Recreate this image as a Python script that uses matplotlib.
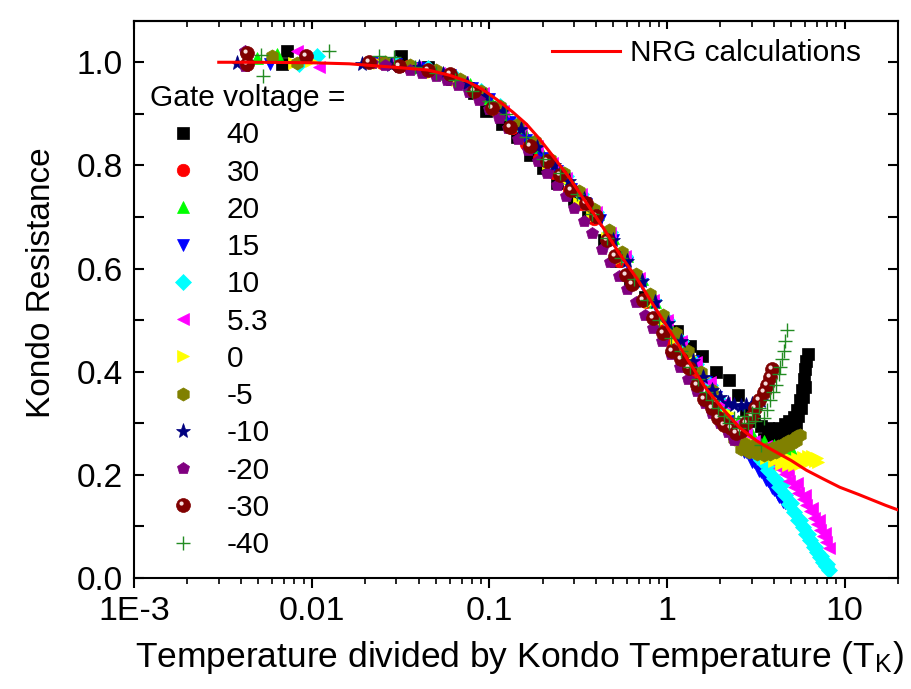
import numpy as np
import matplotlib
matplotlib.use("Agg")
import matplotlib.pyplot as plt
from matplotlib.path import Path
from matplotlib.ticker import MultipleLocator, NullFormatter, FixedLocator, FixedFormatter

plt.rcParams['font.family'] = ['Liberation Sans', 'DejaVu Sans']
plt.rcParams['mathtext.fontset'] = 'custom'
plt.rcParams['mathtext.rm'] = 'Liberation Sans'
plt.rcParams['mathtext.it'] = 'Liberation Sans'

# NRG calculation
nrg_x = [0.003, 0.005, 0.01, 0.0163, 0.03, 0.045, 0.0596, 0.075, 0.091, 0.11, 0.135, 0.162,
         0.19, 0.218, 0.25, 0.28, 0.351, 0.44, 0.54, 0.68, 0.83, 1.0, 1.3, 1.67, 2.1, 2.56, 3.2,
         3.93, 5.0, 6.1, 7.6, 9.4, 12, 14.4, 17, 20]
nrg_y = [1.0, 1.0, 0.999, 0.997, 0.99, 0.985, 0.975, 0.963, 0.948, 0.928, 0.904, 0.88,
         0.853, 0.827, 0.8, 0.778, 0.728, 0.678, 0.629, 0.58, 0.532, 0.488, 0.425, 0.366, 0.325,
         0.292, 0.266, 0.248, 0.228, 0.209, 0.192, 0.176, 0.162, 0.151, 0.141, 0.132]

# gate voltage series
v40_x = [0.0068, 0.0073, 0.032, 0.045, 0.062, 0.082, 0.096, 0.118, 0.144, 0.17, 0.2, 0.24, 0.3,
         0.36, 0.44, 0.52, 0.62, 0.75, 0.93, 1.14, 1.35, 1.58, 1.9, 2.25, 2.5, 2.8, 3.1, 3.4,
         3.7, 4.0, 4.3, 4.6, 4.9, 5.2, 5.4, 5.6, 5.75, 5.9, 6.0, 6.1, 6.2,
         3.5, 3.8, 4.1, 4.4, 4.7, 5.0, 5.3, 5.5, 5.7, 5.85, 6.0]
v40_y = [0.996, 1.022, 1.013, 0.99, 0.968, 0.94, 0.906, 0.881, 0.855, 0.82, 0.795, 0.765, 0.735,
         0.70, 0.655, 0.615, 0.58, 0.545, 0.5, 0.478, 0.45, 0.43, 0.40, 0.383, 0.355, 0.325, 0.305,
         0.295, 0.29, 0.287, 0.29, 0.298, 0.305, 0.312, 0.325, 0.345, 0.365, 0.385, 0.405, 0.42,
         0.435, 0.27, 0.272, 0.275, 0.28, 0.285, 0.29, 0.30, 0.315, 0.33, 0.35, 0.37]

v30_x = [0.025, 0.035, 0.05, 0.07, 0.09, 0.11, 0.135, 0.16, 0.19, 0.23, 0.28, 0.33, 0.39, 0.46,
         0.54, 0.64, 0.76, 0.9, 1.05, 1.25, 1.45, 1.7, 1.95]
v30_y = [0.998, 0.992, 0.98, 0.962, 0.935, 0.905, 0.872, 0.842, 0.815, 0.785, 0.752, 0.725, 0.697,
         0.655, 0.615, 0.575, 0.535, 0.49, 0.46, 0.42, 0.385, 0.35, 0.33]

v20_x = [0.0049, 0.0064, 0.028, 0.04, 0.058, 0.078, 0.1, 0.125, 0.155, 0.19, 0.23, 0.28, 0.34,
         0.41, 0.5, 0.6, 0.72, 0.86, 1.02, 1.2, 1.45, 1.75, 2.1, 2.5, 3.0, 3.5, 4.0, 4.5, 5.0]
v20_y = [1.009, 1.016, 0.998, 0.99, 0.978, 0.958, 0.93, 0.9, 0.87, 0.835, 0.808, 0.775, 0.74,
         0.705, 0.66, 0.625, 0.58, 0.535, 0.495, 0.455, 0.41, 0.37, 0.335, 0.305, 0.28, 0.265,
         0.258, 0.252, 0.25]

v15_x = [0.0058, 0.022, 0.03, 0.042, 0.06, 0.08, 0.1, 0.13, 0.16, 0.2, 0.24, 0.29, 0.35, 0.42,
         0.5, 0.6, 0.72, 0.86, 1.0, 1.2, 1.4, 1.65, 1.9, 2.2, 2.5, 2.8, 3.1, 3.4, 3.7, 4.0, 4.3,
         4.6, 2.7, 3.0, 3.3, 3.6, 3.9, 4.2, 4.5]
v15_y = [0.997, 1.0, 0.996, 0.988, 0.975, 0.95, 0.928, 0.885, 0.85, 0.815, 0.79, 0.755, 0.725,
         0.695, 0.655, 0.61, 0.57, 0.53, 0.495, 0.455, 0.42, 0.38, 0.35, 0.305, 0.265, 0.245,
         0.225, 0.205, 0.188, 0.17, 0.157, 0.145, 0.245, 0.225, 0.207, 0.19, 0.175, 0.16, 0.148]

v10_x = [0.0085, 0.0107, 0.03, 0.045, 0.065, 0.09, 0.115, 0.145, 0.18, 0.22, 0.27, 0.33, 0.4,
         0.48, 0.58, 0.7, 0.84, 1.0, 1.2, 1.45, 1.75, 2.1, 2.5, 2.8, 3.1, 3.4, 3.7, 4.0, 4.3,
         4.6, 4.9, 5.2, 5.5, 5.8, 6.1, 6.4, 6.7, 7.0, 7.3, 7.6, 7.9, 8.2,
         3.2, 3.8, 4.4, 5.0, 5.6, 6.2, 6.8, 7.4, 8.0]
v10_y = [0.997, 1.013, 0.996, 0.988, 0.97, 0.945, 0.915, 0.88, 0.845, 0.81, 0.78, 0.745, 0.71,
         0.67, 0.625, 0.58, 0.54, 0.5, 0.46, 0.415, 0.375, 0.335, 0.29, 0.265, 0.245, 0.228,
         0.21, 0.193, 0.177, 0.16, 0.144, 0.128, 0.113, 0.099, 0.086, 0.073, 0.061, 0.05,
         0.04, 0.031, 0.023, 0.016,
         0.25, 0.215, 0.18, 0.146, 0.113, 0.085, 0.06, 0.042, 0.028]

v53_x = [0.0083, 0.011, 0.027, 0.038, 0.052, 0.07, 0.092, 0.12, 0.15, 0.185, 0.225, 0.27, 0.33,
         0.4, 0.48, 0.58, 0.7, 0.84, 1.0, 1.2, 1.45, 1.75, 2.1, 2.5, 2.8, 3.1, 3.4, 3.7, 4.0,
         4.3, 4.6, 4.9, 5.2, 5.5, 5.8, 6.1, 6.4, 6.7, 7.0, 7.3, 7.6, 7.9, 8.2,
         3.6, 4.2, 4.8, 5.4, 6.0, 6.6, 7.2, 7.8]
v53_y = [1.022, 0.99, 0.997, 0.99, 0.98, 0.962, 0.94, 0.905, 0.87, 0.838, 0.805, 0.775, 0.745,
         0.71, 0.668, 0.625, 0.582, 0.54, 0.5, 0.46, 0.418, 0.38, 0.34, 0.3, 0.28, 0.265, 0.25,
         0.237, 0.225, 0.213, 0.201, 0.189, 0.177, 0.165, 0.153, 0.141, 0.129, 0.117, 0.105,
         0.093, 0.081, 0.07, 0.058,
         0.255, 0.232, 0.208, 0.184, 0.16, 0.136, 0.112, 0.088]

v0_x = [0.008, 0.0099, 0.024, 0.034, 0.048, 0.066, 0.088, 0.112, 0.14, 0.175, 0.215, 0.26, 0.32,
        0.38, 0.46, 0.55, 0.66, 0.8, 0.95, 1.12, 1.35, 1.6, 1.9, 2.2, 2.6, 3.0, 3.4, 3.8, 4.2,
        4.6, 5.0, 5.4, 5.8, 6.2, 6.6, 7.0, 3.6, 4.0, 4.4, 4.8, 5.2, 5.6, 6.0, 6.4, 6.8, 7.1]
v0_y = [0.999, 1.003, 0.999, 0.993, 0.982, 0.965, 0.94, 0.91, 0.875, 0.84, 0.805, 0.77, 0.728,
        0.7, 0.66, 0.62, 0.58, 0.535, 0.5, 0.465, 0.43, 0.39, 0.355, 0.32, 0.285, 0.262, 0.25,
        0.242, 0.236, 0.232, 0.23, 0.232, 0.234, 0.236, 0.236, 0.232,
        0.232, 0.226, 0.222, 0.22, 0.22, 0.222, 0.224, 0.226, 0.226, 0.225]

vm5_x = [0.006, 0.0083, 0.026, 0.036, 0.05, 0.068, 0.09, 0.115, 0.145, 0.18, 0.22, 0.265, 0.32,
         0.39, 0.47, 0.56, 0.67, 0.8, 0.95, 1.12, 1.32, 1.55, 1.8, 2.1, 2.4, 2.7, 3.0, 3.3, 3.6,
         3.9, 4.2, 4.5, 4.8, 5.1, 5.4, 5.6, 2.6, 2.9, 3.2, 3.5, 3.8, 4.1, 4.4, 4.7, 5.0, 5.3]
vm5_y = [1.013, 0.999, 1.0, 0.994, 0.985, 0.968, 0.945, 0.915, 0.88, 0.848, 0.812, 0.785, 0.75,
         0.715, 0.675, 0.632, 0.59, 0.55, 0.51, 0.475, 0.44, 0.4, 0.365, 0.31, 0.27, 0.262,
         0.255, 0.25, 0.25, 0.252, 0.256, 0.26, 0.265, 0.27, 0.275, 0.278,
         0.25, 0.245, 0.24, 0.238, 0.24, 0.245, 0.25, 0.255, 0.26, 0.265]

vm10_x = [0.0038, 0.0193, 0.028, 0.04, 0.055, 0.075, 0.095, 0.12, 0.15, 0.185, 0.23, 0.28, 0.34,
          0.41, 0.5, 0.6, 0.72, 0.86, 1.02, 1.2, 1.4, 1.6, 1.8, 2.0, 2.2, 2.4, 2.6, 2.8, 3.0,
          3.2, 3.4]
vm10_y = [0.999, 0.997, 0.995, 0.99, 0.978, 0.958, 0.935, 0.905, 0.87, 0.835, 0.8, 0.77, 0.735,
          0.70, 0.655, 0.615, 0.575, 0.535, 0.495, 0.46, 0.42, 0.39, 0.365, 0.35, 0.34, 0.335,
          0.333, 0.335, 0.338, 0.34, 0.343]

vm20_x = [0.0042, 0.0042, 0.022, 0.026, 0.031, 0.036, 0.042, 0.05, 0.058, 0.067, 0.077, 0.088,
          0.1, 0.113, 0.128, 0.145, 0.165, 0.187, 0.21, 0.24, 0.27, 0.3, 0.34, 0.38, 0.43, 0.48,
          0.54, 0.6, 0.67, 0.75, 0.84, 0.94, 1.05, 1.18, 1.32, 1.47, 1.63, 1.8, 2.0, 2.2, 2.4]
vm20_y = [1.022, 0.993, 0.998, 0.995, 0.99, 0.985, 0.98, 0.974, 0.965, 0.955, 0.942, 0.926, 0.91,
          0.892, 0.872, 0.852, 0.83, 0.808, 0.786, 0.762, 0.74, 0.718, 0.692, 0.668, 0.638, 0.612,
          0.585, 0.56, 0.536, 0.51, 0.485, 0.46, 0.435, 0.41, 0.385, 0.362, 0.34, 0.32, 0.3,
          0.283, 0.268]

vm30_x = [0.0043, 0.0043, 0.0093, 0.021, 0.031, 0.045, 0.06, 0.082, 0.104, 0.13, 0.17, 0.21,
          0.25, 0.29, 0.35, 0.4, 0.46, 0.51, 0.59, 0.64, 0.73, 0.83, 0.95, 1.07, 1.2, 1.33,
          1.47, 1.62, 1.8, 1.95, 2.1, 2.3, 2.45, 2.6, 2.8, 3.0, 3.15, 3.3, 3.5, 3.65, 3.8, 3.9]
vm30_y = [1.018, 0.997, 1.013, 1.0, 0.993, 0.985, 0.978, 0.945, 0.912, 0.875, 0.838, 0.808, 0.782,
          0.752, 0.728, 0.702, 0.655, 0.625, 0.588, 0.571, 0.54, 0.505, 0.475, 0.441, 0.425,
          0.407, 0.375, 0.348, 0.33, 0.31, 0.296, 0.29, 0.281, 0.285, 0.3, 0.315, 0.33, 0.345,
          0.36, 0.375, 0.39, 0.406]

vm40_x = [0.0052, 0.0053, 0.0125, 0.024, 0.029, 0.038, 0.05, 0.064, 0.08, 0.1, 0.125, 0.16, 0.2,
          0.25, 0.31, 0.38, 0.46, 0.55, 0.65, 0.77, 0.9, 1.05, 1.2, 1.35, 1.5, 1.65, 1.8, 1.95,
          2.1, 2.25, 2.4, 2.55, 2.7, 2.85, 3.0, 3.15, 3.3, 3.4, 3.5, 3.65, 3.8, 3.95, 4.1, 4.25,
          4.35, 4.45, 4.55, 4.65, 4.75]
vm40_y = [1.014, 0.974, 1.022, 1.012, 1.01, 0.99, 0.98, 0.965, 0.945, 0.925, 0.9, 0.855, 0.812,
          0.785, 0.745, 0.705, 0.66, 0.62, 0.58, 0.54, 0.5, 0.465, 0.44, 0.41, 0.385, 0.36,
          0.345, 0.33, 0.315, 0.3, 0.31, 0.29, 0.315, 0.3, 0.32, 0.305, 0.33, 0.258, 0.31,
          0.325, 0.345, 0.36, 0.375, 0.395, 0.41, 0.425, 0.44, 0.46, 0.48]

gate_labels = ['40', '30', '20', '15', '10', '5.3', '0', '-5', '-10', '-20', '-30', '-40']
gate_x = [v40_x, v30_x, v20_x, v15_x, v10_x, v53_x, v0_x, vm5_x, vm10_x, vm20_x, vm30_x, vm40_x]
gate_y = [v40_y, v30_y, v20_y, v15_y, v10_y, v53_y, v0_y, vm5_y, vm10_y, vm20_y, vm30_y, vm40_y]
colors = ['#000000', '#ff0000', '#00ff00', '#0000ff', '#00ffff', '#ff00ff', '#ffff00',
          '#808000', '#000080', '#800080', '#800000', '#238c23']
markers = ['s', 'o', '^', 'v', 'D', '<', '>', 'h', '*', 'p', 'o', '+']
msizes = [8.5, 9, 9, 9, 8, 9, 9, 9.5, 11, 9, 10, 10]

# highlight spot for the "sphere" symbol
circ = Path.circle((-0.14, 0.14), 0.15)
spot = Path([(-0.5, -0.5), (0.5, 0.5)] + list(circ.vertices),
            [Path.MOVETO, Path.MOVETO] + list(circ.codes))

fig = plt.figure(figsize=(9.12, 6.89), dpi=100)
ax = fig.add_axes([134 / 912, 1 - 578 / 689, 764 / 912, 557 / 689])

handles = []
for i, lab in enumerate(gate_labels):
    c = colors[i]
    mew = 1.0 if markers[i] == '+' else 0.5
    h, = ax.plot(gate_x[i], gate_y[i], linestyle='none', marker=markers[i], ms=msizes[i],
                 mfc=c, mec=c, mew=mew, zorder=2 + i * 0.01)
    if lab == '-30':
        s, = ax.plot(gate_x[i], gate_y[i], linestyle='none', marker=spot, ms=msizes[i],
                     mfc='#f5dede', mec='none', zorder=2 + i * 0.01 + 0.005)
        handles.append((h, s))
    else:
        handles.append(h)

nrg_line, = ax.plot(nrg_x, nrg_y, color='#ff0000', lw=2.2, zorder=5)

ax.set_xscale('log')
ax.set_xlim(1e-3, 20)
ax.set_ylim(0, 1.08)

ax.xaxis.set_major_locator(FixedLocator([1e-3, 1e-2, 1e-1, 1, 10]))
ax.xaxis.set_major_formatter(FixedFormatter(['1E-3', '0.01', '0.1', '1', '10']))
ax.xaxis.set_minor_formatter(NullFormatter())
ax.yaxis.set_major_locator(FixedLocator([0, 0.2, 0.4, 0.6, 0.8, 1.0]))
ax.yaxis.set_major_formatter(FixedFormatter(['0.0', '0.2', '0.4', '0.6', '0.8', '1.0']))
ax.yaxis.set_minor_locator(MultipleLocator(0.1))

ax.tick_params(axis='x', which='major', direction='out', length=7, width=1.5, labelsize=24.5, pad=6)
ax.tick_params(axis='x', which='minor', direction='out', length=4, width=1.2)
ax.tick_params(axis='y', which='both', direction='in', length=7, width=1.5, right=True,
               labelsize=24, pad=8)
top = ax.secondary_xaxis('top')
top.tick_params(axis='x', which='major', direction='in', length=6, width=1.5, labeltop=False)
top.tick_params(axis='x', which='minor', direction='in', length=4, width=1.2)
top.set_xticks([1e-3, 1e-2, 1e-1, 1, 10])
top.xaxis.set_major_formatter(NullFormatter())
top.xaxis.set_minor_formatter(NullFormatter())
for sp in list(ax.spines.values()) + list(top.spines.values()):
    sp.set_linewidth(1.5)

ax.set_ylabel('Kondo Resistance', fontsize=24)
ax.yaxis.set_label_coords(-0.101, 0.53)
ax.set_xlabel(r'Temperature divided by Kondo Temperature (T$_\mathregular{K}$)', fontsize=25.5)
ax.xaxis.set_label_coords(0.505, -0.11)

leg1 = ax.legend([nrg_line], ['NRG calculations'], loc='upper left', frameon=False,
                 fontsize=21.5, handlelength=2.27, handletextpad=0.33, borderpad=0,
                 borderaxespad=0, bbox_to_anchor=(552 / 912, 1 - 39 / 689),
                 bbox_transform=fig.transFigure)
ax.add_artist(leg1)

leg2 = ax.legend(handles, gate_labels, loc='upper left', frameon=False, fontsize=21.5,
                 title='Gate voltage =', title_fontsize=21.5, alignment='left',
                 handlelength=2.2, handletextpad=0.37, labelspacing=0.31, borderpad=0,
                 borderaxespad=0, bbox_to_anchor=(150 / 912, 1 - 84 / 689),
                 bbox_transform=fig.transFigure)

fig.savefig('out.png', dpi=100)
